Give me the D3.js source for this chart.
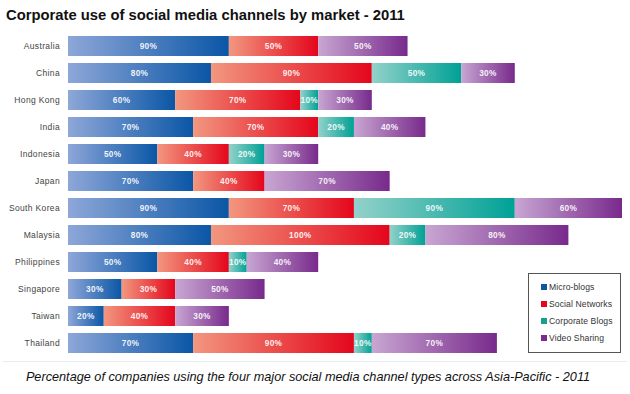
<!DOCTYPE html>
<html><head><meta charset="utf-8">
<script src="https://cdn.jsdelivr.net/npm/d3@7"></script>
<style>body{margin:0;background:#fff}svg{display:block}</style>
</head><body>
<script>
const categories = ["Australia","China","Hong Kong","India","Indonesia","Japan","South Korea","Malaysia","Philippines","Singapore","Taiwan","Thailand"];
const seriesNames = ["Micro-blogs","Social Networks","Corporate Blogs","Video Sharing"];
const microBlogs     = [90,80,60,70,50,70,90,80,50,30,20,70];
const socialNetworks = [50,90,70,70,40,40,70,100,40,30,40,90];
const corporateBlogs = [0,50,10,20,20,0,90,20,10,0,0,10];
const videoSharing   = [50,30,30,40,30,70,60,80,40,50,30,70];
const title = "Corporate use of social media channels by market - 2011";
const caption = "Percentage of companies using the four major social media channel types across Asia-Pacific - 2011";

const keys = ["mb","sn","cb","vs"];
const table = categories.map((c,i)=>({cat:c, mb:microBlogs[i], sn:socialNetworks[i], cb:corporateBlogs[i], vs:videoSharing[i]}));
const grads = {mb:["#8ea7d8","#0a56a6"], sn:["#f2977f","#e4061c"], cb:["#93d2ca","#00a195"], vs:["#c8a6d2","#782a8c"]};
const swatch = {mb:"#0b57a6", sn:"#e3051b", cb:"#17a092", vs:"#7a2b8e"};
const FF = "'Liberation Sans', Arial, Helvetica, sans-serif";

const W=630,H=394;
const svg = d3.select("body").append("svg").attr("width",W).attr("height",H);
const defs = svg.append("defs");
keys.forEach(k=>{
  const g = defs.append("linearGradient").attr("id","g_"+k).attr("x1","0").attr("x2","1").attr("y1","0").attr("y2","0");
  g.append("stop").attr("offset","0").attr("stop-color",grads[k][0]);
  g.append("stop").attr("offset","1").attr("stop-color",grads[k][1]);
});

const x = d3.scaleLinear().domain([0,310]).range([68,622]);
const y = d3.scaleBand().domain(categories).range([36,353]).paddingInner(0.259).paddingOuter(0);

svg.append("text").attr("x",6).attr("y",20).attr("font-family",FF)
  .attr("font-weight","bold").attr("font-size",14.8).attr("fill","#111").text(title);

const stacked = d3.stack().keys(keys)(table);
const layers = svg.append("g").selectAll("g").data(stacked).join("g").attr("fill",d=>"url(#g_"+d.key+")");
layers.selectAll("rect").data(d=>d.map(p=>({p,key:d.key}))).join("rect")
  .filter(d=>d.p[1]-d.p[0]>0)
  .attr("x",d=>x(d.p[0])).attr("y",d=>y(d.p.data.cat))
  .attr("width",d=>x(d.p[1])-x(d.p[0])).attr("height",y.bandwidth());

const lbl = svg.append("g").attr("font-family",FF).attr("font-size",8.3).attr("font-weight","bold")
  .attr("letter-spacing",0.3).attr("fill","#fff").attr("fill-opacity",0.92).attr("text-anchor","middle");
stacked.forEach(s=>{
  s.forEach(p=>{
    const v=p[1]-p[0];
    if(v>0) lbl.append("text").attr("x",(x(p[0])+x(p[1]))/2).attr("y",y(p.data.cat)+y.bandwidth()/2+3).text(v+"%");
  });
});

const axis = d3.axisLeft(y).tickSize(0).tickPadding(0);
const ag = svg.append("g").attr("transform","translate(60,0)").call(axis);
ag.select(".domain").remove();
ag.selectAll("text").attr("font-family",FF).attr("font-size",8.5).attr("letter-spacing",0.35).attr("fill","#444");

svg.append("line").attr("x1",3).attr("x2",627).attr("y1",361.5).attr("y2",361.5).attr("stroke","#e4eef0");

svg.append("text").attr("x",W/2-7).attr("y",381).attr("text-anchor","middle").attr("font-family",FF)
  .attr("font-style","italic").attr("font-size",12.7).attr("fill","#111").text(caption);

const lg = svg.append("g");
lg.append("rect").attr("x",528.5).attr("y",273.5).attr("width",92).attr("height",79).attr("fill","#fff").attr("stroke","#555");
const ly = d3.scalePoint().domain(keys).range([287,338]);
keys.forEach((k,i)=>{
  lg.append("rect").attr("x",541).attr("y",ly(k)-3).attr("width",6).attr("height",6).attr("fill",swatch[k]);
  lg.append("text").attr("x",549).attr("y",ly(k)+3).attr("font-family",FF).attr("font-size",8.6).attr("letter-spacing",0.1).attr("fill","#333").text(seriesNames[i]);
});
</script>
</body></html>
